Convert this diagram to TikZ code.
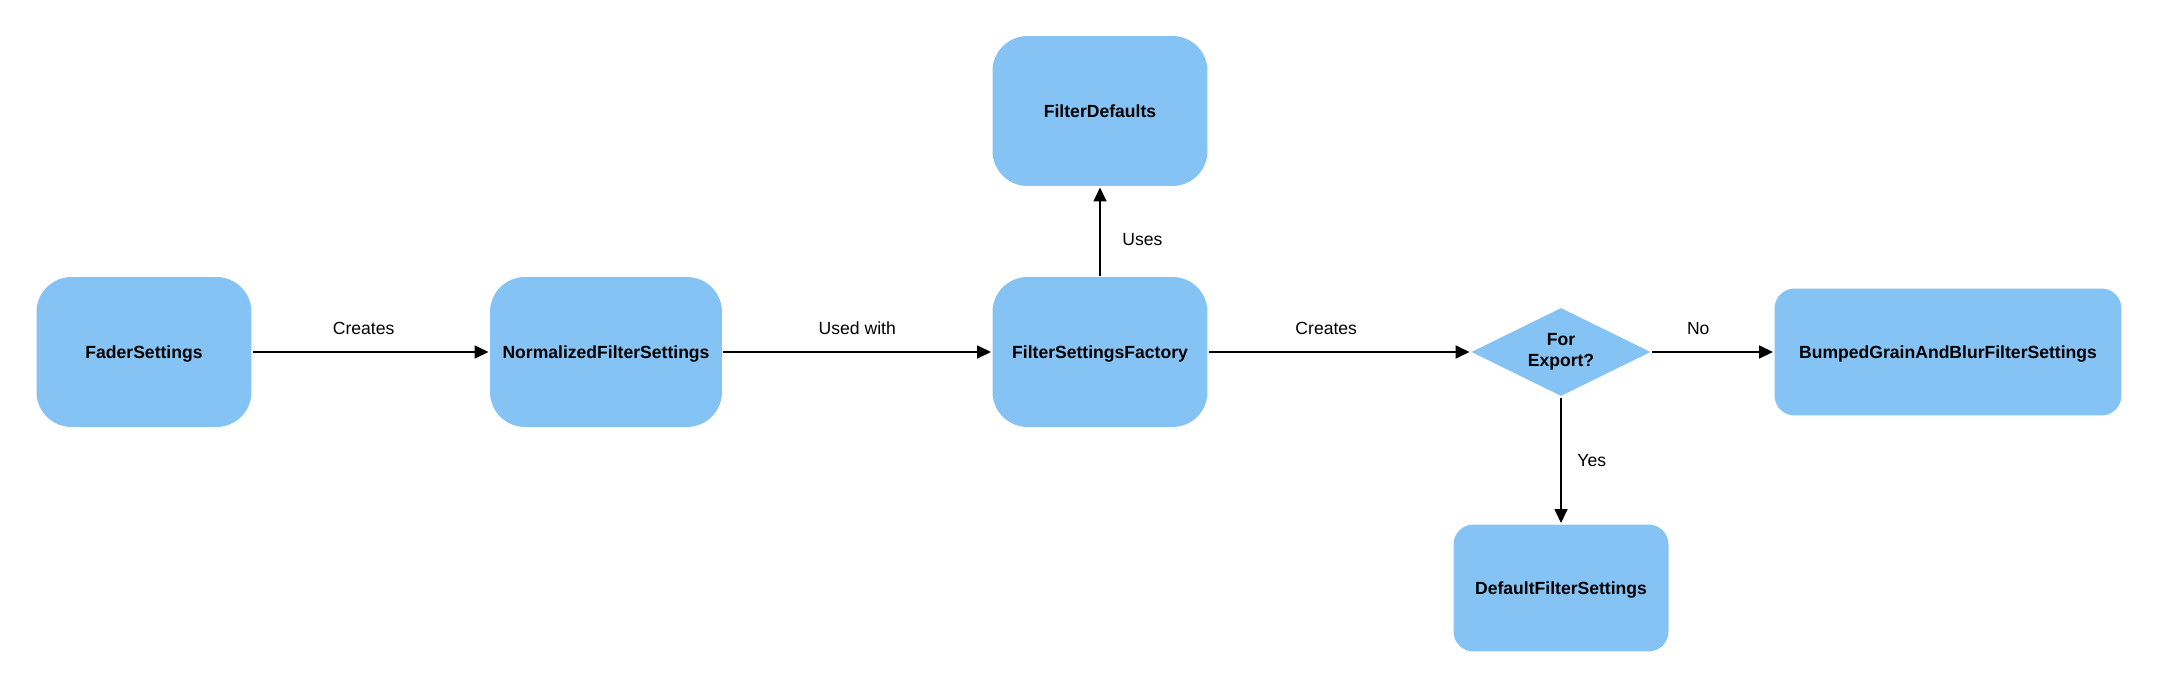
\documentclass[tikz,border=0pt]{standalone}
\usepackage{fontspec}
\setmainfont{Liberation Sans}
\usetikzlibrary{shapes.geometric, arrows.meta}

\definecolor{boxblue}{HTML}{84C3F3}

\tikzset{
    box/.style={fill=boxblue, rounded corners=0.7cm, minimum width=4.3cm, minimum height=3cm,
        inner sep=0pt, text depth=0pt, font=\fontsize{10}{12}\selectfont\bfseries},
    flatbox/.style={box, rounded corners=0.4cm, minimum height=2.54cm},
    choice/.style={diamond, fill=boxblue, aspect=2, inner sep=0pt, minimum width=3.6cm,
        minimum height=1.78cm, align=center, font=\fontsize{10}{12}\selectfont\bfseries},
    lbl/.style={inner sep=0pt, font=\fontsize{10}{12}\selectfont},
}

\begin{document}
\begin{tikzpicture}[x=0.02cm, y=-0.02cm, line width=0.055cm,
    >={Triangle[length=0.28cm, width=0.25cm]}]
    \useasboundingbox (0,0) rectangle (2159,689);
    % settings chain
    \node[box](fader) at (144,352) {FaderSettings};
    \node[box, minimum width=4.64cm](normalized) at (606,352) {NormalizedFilterSettings};
    \node[box](factory) at (1100,352) {FilterSettingsFactory};
    \node[box](defaults) at (1100,111) {FilterDefaults};
    % decision
    \node[choice](export) at (1561,352) {For\\Export?};
    \node[flatbox, minimum width=6.94cm](bumped) at (1948,352) {BumpedGrainAndBlurFilterSettings};
    \node[flatbox](defaultfs) at (1561,588) {DefaultFilterSettings};
    % Transitions
    \path
        (fader)
            edge [->] node[lbl, pos=0.47, above=0.32cm] {Creates} (normalized)
        (normalized)
            edge [->] node[lbl, above=0.32cm] {Used with} (factory)
        (factory)
            edge [->] node[lbl, pos=0.41, right=0.42cm] {Uses} (defaults)
            edge [->] node[lbl, pos=0.45, above=0.32cm] {Creates} (export)
        (export)
            edge [->] node[lbl, pos=0.38, above=0.32cm] {No} (bumped)
            edge [->] node[lbl, right=0.3cm] {Yes} (defaultfs)
        ;
\end{tikzpicture}
\end{document}
